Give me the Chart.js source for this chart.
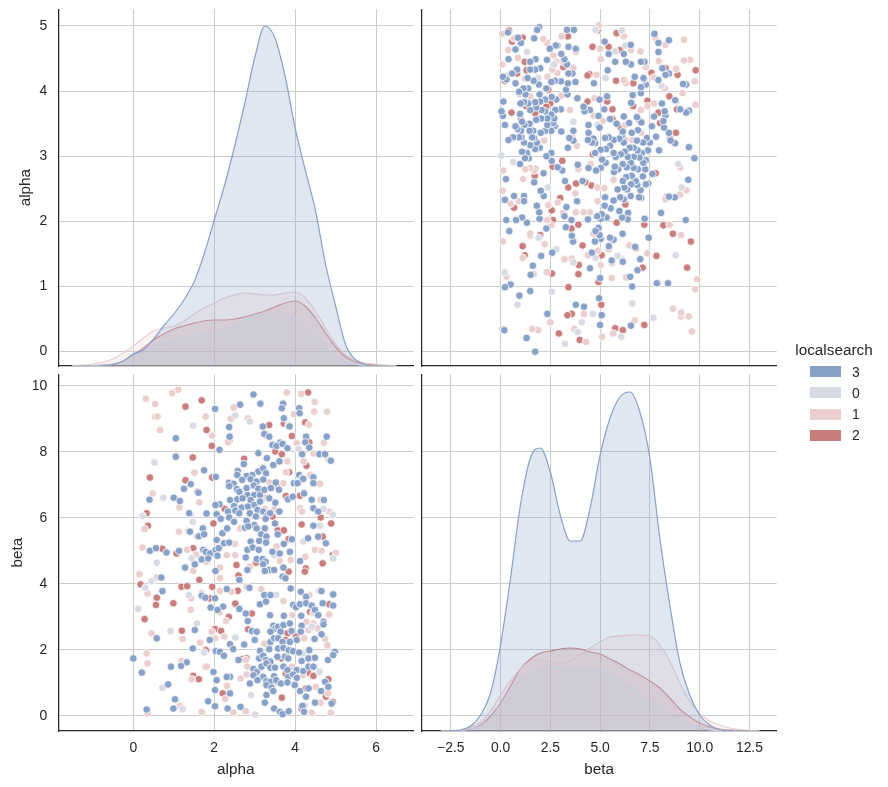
<!DOCTYPE html>
<html>
<head>
<meta charset="utf-8">
<script src="https://cdn.jsdelivr.net/npm/chart.js@4.4.0/dist/chart.umd.min.js"></script>
<style>
  html, body { margin: 0; padding: 0; background: #fff; }
  #wrap { position: relative; width: 888px; height: 787px; font-family: "Liberation Sans", Arial, sans-serif; color: #262626; }
  #wrap canvas { position: absolute; left: 0; top: 0; }
  .leg { position: absolute; white-space: nowrap; }
</style>
</head>
<body>
<div id="wrap">
  <canvas id="aa" width="888" height="787"></canvas>
  <canvas id="ab" width="888" height="787"></canvas>
  <canvas id="ba" width="888" height="787"></canvas>
  <canvas id="bb" width="888" height="787"></canvas>
</div>
<script>
// hue levels in legend order
const hueLevels = ['3', '0', '1', '2'];
const hueColors = ['#88a1c8', '#d8dbe4', '#ebcfcf', '#c97e7d'];

// tick values
const alphaColTicks = [0, 2, 4, 6];
const alphaRowTicks = [0, 1, 2, 3, 4, 5];
const betaColTicks = [-2.5, 0, 2.5, 5, 7.5, 10, 12.5];
const betaRowTicks = [0, 2, 4, 6, 8, 10];

// scatter points, [alpha, beta]
const pts3 = [
  [2.97,9.74],[3.14,9.46],[2.64,9.43],[2.02,9.30],[3.70,9.46],[3.67,9.32],[4.10,9.32],[4.11,9.17],[3.72,9.02],
  [2.37,8.75],[3.20,8.77],[3.86,8.77],[1.05,8.41],[2.38,8.46],[3.24,8.54],[3.36,8.46],[4.27,8.46],[4.78,8.46],[3.63,8.28],[3.44,8.21],[3.54,8.18],[3.69,8.24],[3.81,8.11],[4.25,8.29],[2.13,8.06],[4.35,8.13],
  [1.05,7.85],[3.09,7.96],[3.30,7.81],[4.17,7.93],[4.60,7.93],[4.74,7.93],[4.88,7.73],[2.73,7.63],[3.61,7.71],[3.46,7.60],[1.75,7.44],[2.58,7.42],[3.09,7.40],[3.21,7.50],[3.28,7.35],[2.94,7.30],[2.80,7.27],[2.57,7.30],[4.10,7.30],[4.18,7.20],[4.45,7.23],[2.04,7.24],[2.36,7.06],[2.48,7.03],[2.69,7.15],[2.90,7.17],[3.05,7.10],[3.21,7.16],[3.52,7.07],[3.97,7.05],[4.06,7.05],[4.45,7.05],[4.20,7.18],
  [1.42,7.02],[1.25,6.88],[1.61,6.76],[2.37,6.96],[2.56,6.87],[2.62,6.79],[2.80,6.90],[2.98,6.98],[3.09,6.88],[2.82,6.69],[2.99,6.69],[3.13,6.69],[3.24,6.85],[3.40,6.90],[3.60,6.85],[3.82,6.56],[3.94,6.64],[4.22,6.74],[4.41,6.55],[4.71,6.54],[0.40,6.55],[1.00,6.61],[1.15,6.51],[2.13,6.41],[2.39,6.54],[2.57,6.56],[2.70,6.59],[2.90,6.54],[2.99,6.39],[3.13,6.49],[3.36,6.59],[3.51,6.46],[2.03,6.39],[2.49,6.36],[2.68,6.31],[2.83,6.34],[3.07,6.24],[3.61,6.19],[4.45,6.29],[4.57,6.19],[1.38,6.14],[1.81,6.13],[2.06,6.11],[2.34,6.19],[2.52,6.22],[2.62,6.14],[2.88,6.14],[3.03,6.04],[3.21,6.19],[3.32,6.09],[3.38,6.14],
  [2.16,5.97],[2.37,6.01],[2.49,5.88],[2.80,5.91],[2.99,5.78],[3.27,5.97],[3.50,5.83],[4.45,5.76],[1.40,5.58],[1.72,5.68],[1.62,5.44],[1.75,5.50],[2.20,5.53],[2.32,5.68],[2.76,5.70],[2.84,5.74],[3.05,5.68],[3.25,5.68],[3.16,5.50],[3.29,5.43],[3.57,5.50],[3.92,5.35],[4.32,5.38],[4.57,5.43],[4.76,5.23],[2.06,5.33],[2.24,5.23],[2.37,5.25],[2.90,5.28],[3.11,5.30],[3.28,5.25],[3.72,5.21],[0.41,5.00],[0.56,5.08],[0.82,4.95],[1.13,5.00],[1.73,5.03],[1.79,4.97],[1.90,4.92],[2.04,5.03],[2.11,5.08],[2.82,5.03],[2.95,5.10],[3.10,5.03],[3.44,4.97],[3.62,4.92],[3.87,4.97],
  [1.69,4.74],[1.85,4.77],[2.08,4.85],[2.78,4.80],[3.05,4.75],[3.20,4.75],[3.27,4.67],[4.12,4.69],[1.28,4.49],[1.52,4.59],[3.21,4.59],[3.36,4.42],[3.71,4.49],[2.82,4.42],[0.69,4.19],[2.03,4.39],[2.62,4.12],[3.25,4.39],[3.48,4.42],[3.69,4.22],[3.76,4.17],
  [0.72,3.78],[2.31,3.84],[2.87,3.88],[3.24,3.66],[3.39,3.66],[3.89,3.86],[4.14,3.76],[4.27,3.61],[4.65,3.78],[4.94,3.68],[1.69,3.64],[1.78,3.58],[2.02,3.56],[1.91,3.28],[2.22,3.31],[2.62,3.24],[3.13,3.38],[3.28,3.46],[3.95,3.36],[4.02,3.29],[4.12,3.38],[4.27,3.41],[4.41,3.34],[4.49,3.21],[4.68,3.41],[4.94,3.34],[2.08,3.21],[2.78,3.10],[3.38,3.05],[3.72,3.03],[4.15,3.03],[4.57,3.05],
  [2.83,2.87],[3.46,2.73],[3.51,2.65],[3.58,2.70],[3.71,2.75],[3.87,2.80],[4.16,2.73],[4.70,2.85],[4.70,2.77],[1.52,2.60],[2.93,2.57],[3.05,2.55],[3.39,2.55],[3.64,2.55],[3.91,2.57],[4.14,2.55],[4.65,2.47],[0.58,2.35],[1.89,2.30],[2.39,2.17],[2.74,2.16],[3.00,2.30],[3.39,2.24],[3.48,2.35],[3.58,2.35],[3.69,2.24],[3.87,2.24],[4.04,2.30],[4.48,2.33],[1.47,2.04],[2.04,1.96],[2.14,1.94],[2.47,2.02],[3.13,1.97],[3.36,2.02],[3.58,2.04],[3.71,2.06],[3.84,1.99],[3.95,1.96],[4.10,1.92],[4.35,1.99],[4.98,1.94],
  [0.00,1.74],[1.32,1.62],[2.24,1.82],[2.60,1.69],[3.11,1.74],[3.21,1.82],[3.28,1.69],[3.39,1.64],[3.56,1.79],[3.75,1.79],[3.83,1.74],[4.16,1.66],[4.33,1.74],[4.49,1.76],[4.81,1.69],[4.94,1.84],[0.21,1.31],[0.93,1.49],[1.18,1.51],[2.97,1.42],[3.05,1.33],[3.17,1.49],[3.29,1.59],[3.39,1.46],[3.50,1.46],[3.71,1.49],[3.81,1.39],[4.04,1.39],[4.20,1.36],[4.33,1.49],[4.45,1.49],[2.39,1.18],[1.98,1.33],[2.97,1.23],[3.21,1.18],[3.48,1.20],[3.83,1.18],[3.95,1.25],[4.04,1.15],[2.06,1.08],[2.31,1.18],[3.07,1.08],[3.29,1.05],[3.39,1.03],[3.53,1.08],[3.65,0.98],[3.81,1.01],
  [0.86,0.95],[2.88,0.98],[3.29,0.93],[3.42,0.85],[3.99,0.93],[4.12,0.75],[4.33,0.83],[4.64,0.75],[4.74,1.03],[4.82,0.88],[2.02,0.78],[2.39,0.68],[3.29,0.63],[3.46,0.75],[4.27,0.58],[1.03,0.50],[1.85,0.44],[4.90,0.37],[0.99,0.22],[0.33,0.19],[2.02,0.29],[2.33,0.22],[2.65,0.27],[3.25,0.40],[3.48,0.22],[3.62,0.12],[3.69,0.05],[3.84,0.14],[4.18,0.30],[4.22,0.12],[4.49,0.40]
];
const pts0 = [
  [2.52,9.10],[2.88,8.92],[1.48,8.79],[3.84,8.82],[4.08,8.09],[0.52,7.68],[0.74,6.61],[4.70,6.27],[0.23,6.06],[1.42,6.09],[4.93,6.09],[1.47,5.88],[4.61,5.76],[4.20,5.28],[1.44,4.77],[3.48,4.87],[4.94,4.77],[0.58,4.64],
  [0.45,4.08],[0.30,3.88],[1.37,3.66],[3.53,3.66],[0.12,3.24],[1.57,2.80],[0.92,2.57],[4.41,2.70],[2.52,2.37],[4.20,1.89],[1.75,1.92],[4.60,1.33],[0.72,0.85],[3.95,0.95],[2.91,0.63],[1.22,0.20],[3.01,0.04],[4.24,0.32]
];
const pts1 = [
  [1.11,9.88],[0.96,9.78],[0.31,9.61],[0.54,9.45],[2.48,9.34],[3.79,9.80],[4.15,9.76],[4.48,9.51],[4.47,9.22],[4.79,9.22],[3.97,9.14],[2.41,9.00],[2.83,9.02],[0.54,9.06],[0.60,9.07],[1.79,9.07],
  [0.66,8.66],[4.34,8.82],[1.95,8.49],[2.34,8.29],[4.04,8.26],[4.71,8.28],
  [1.05,7.91],[4.46,7.95],[4.82,7.77],[3.81,7.71],[4.21,7.71],[1.51,7.37],[3.77,7.38],[4.37,7.30],[3.36,7.07],[3.71,7.05],[4.61,7.03],
  [0.48,6.74],[4.63,6.55],[1.63,6.47],[3.25,6.61],[1.14,6.31],[3.25,6.27],[3.48,6.26],[4.12,6.29],[4.17,6.19],[4.84,6.19],
  [0.28,5.66],[1.13,5.58],[1.36,5.60],[1.57,5.43],[2.64,5.68],[2.51,5.21],[3.54,5.13],[0.23,5.10],[1.33,5.03],[4.49,5.03],[4.65,5.00],[5.01,4.94],
  [1.55,4.89],[2.31,4.87],[2.52,4.87],[3.62,4.69],[3.89,4.72],[4.25,4.82],[1.81,4.67],[2.14,4.49],[2.88,4.52],[1.48,4.39],[0.15,4.29],[0.58,4.19],[2.14,4.17],
  [0.35,3.71],[1.69,3.71],[2.14,3.78],[2.43,3.76],[2.80,3.91],[3.16,3.84],[4.35,3.66],[4.60,3.78],[1.43,3.56],[3.29,3.61],[3.71,3.48],[1.42,3.21],[2.13,3.14],[3.93,3.05],[4.45,3.13],[4.84,3.07],
  [2.29,2.87],[4.28,2.85],[4.45,2.80],[1.94,2.55],[4.33,2.60],[4.55,2.65],[0.45,2.50],[1.22,2.33],[2.02,2.35],[2.25,2.40],[3.24,2.19],[4.22,2.35],[4.74,2.33],[4.80,2.14],[1.65,2.22],
  [0.33,1.89],[0.35,1.59],[1.19,1.66],[2.78,1.69],[1.81,1.49],[2.82,1.49],[3.92,1.49],[2.80,1.25],[4.19,1.23],[1.44,1.11],[2.65,1.13],
  [2.31,0.91],[4.51,0.88],[4.81,0.68],[2.27,0.51],[1.15,0.30],[0.35,0.07],[1.69,0.12],[2.47,0.10],[2.78,0.14],[4.41,0.09],[4.63,0.40],[4.88,0.09]
];
const pts2 = [
  [1.69,9.56],[1.29,9.37],[4.32,9.80],
  [1.81,8.66],[3.36,8.81],[3.72,8.86],[4.25,8.89],[3.27,8.51],[3.92,8.48],[2.37,8.33],[4.35,8.29],[1.94,8.18],
  [1.47,7.83],[3.51,8.01],[3.67,7.93],[2.74,7.79],[4.28,7.58],[3.85,7.38],[0.41,7.22],[1.29,7.14],[1.95,7.22],
  [1.59,6.79],[3.57,6.92],[3.77,6.66],[4.12,6.67],[2.26,6.27],[0.33,6.14],[3.44,6.04],[4.63,6.01],
  [0.36,5.76],[1.98,5.83],[4.16,5.80],[4.89,5.83],[3.57,5.62],[3.72,5.62],[3.84,5.36],[4.68,5.43],[0.72,5.06],[1.07,4.92],[1.48,5.08],[4.93,4.87],
  [4.68,4.62],[2.55,4.57],[3.03,4.64],[3.84,4.37],[4.26,4.47],[4.24,4.37],[1.63,4.12],[2.60,4.25],[0.18,3.98],
  [1.19,3.91],[1.33,3.93],[1.95,3.91],[2.58,3.79],[0.58,3.58],[0.56,3.36],[0.99,3.41],[1.89,3.56],[2.52,3.40],[4.84,3.38],[0.28,2.93],[2.36,3.00],[2.93,3.10],[4.37,3.15],
  [1.20,2.58],[2.02,2.63],[2.17,2.57],[2.84,2.62],[3.81,2.50],[4.02,2.40],[3.76,2.30],[1.79,1.99],
  [2.70,1.72],[2.80,1.74],[3.66,1.74],[1.79,1.49],[3.77,1.28],[4.32,1.31],[4.45,1.21],[1.48,1.21],[1.62,1.11],[3.56,1.03],
  [4.27,0.83],[4.82,1.11],[2.21,0.68],[3.67,0.55],[4.76,0.58],[4.93,0.42],[4.16,0.22]
];
const pointsByLevel = { '3': pts3, '0': pts0, '1': pts1, '2': pts2 };

// kde curves (diagonal), evaluated on these grids
const kdeAlphaX = [-1.5,-1.25,-1,-0.75,-0.5,-0.25,0,0.25,0.5,0.75,1,1.25,1.5,1.75,2,2.25,2.5,2.75,3,3.25,3.5,3.75,4,4.25,4.5,4.75,5,5.25,5.5,5.75,6,6.25,6.5];
const kdeAlpha3 = [0,0,0,0.005,0.015,0.05,0.12,0.16,0.27,0.40,0.52,0.66,0.84,1.12,1.46,1.80,2.19,2.62,3.08,3.40,3.28,2.90,2.38,1.96,1.56,1.02,0.60,0.21,0.06,0.01,0,0,0];
const kdeAlpha0 = [0,0,0.003,0.01,0.02,0.05,0.10,0.15,0.20,0.23,0.26,0.28,0.30,0.32,0.34,0.37,0.41,0.46,0.50,0.53,0.53,0.51,0.47,0.39,0.30,0.19,0.10,0.04,0.015,0.005,0,0,0];
const kdeAlpha1 = [0.005,0.01,0.02,0.04,0.07,0.13,0.20,0.28,0.35,0.38,0.40,0.45,0.52,0.58,0.63,0.68,0.71,0.73,0.72,0.71,0.71,0.73,0.74,0.68,0.55,0.38,0.22,0.11,0.06,0.03,0.02,0.01,0.003];
const kdeAlpha2 = [0,0.002,0.005,0.01,0.02,0.05,0.11,0.18,0.26,0.32,0.37,0.40,0.43,0.45,0.46,0.46,0.47,0.49,0.52,0.55,0.59,0.63,0.65,0.60,0.48,0.33,0.19,0.09,0.04,0.02,0.01,0.004,0];

const kdeBetaX = [-3,-2.5,-2,-1.5,-1,-0.5,0,0.5,1,1.5,2,2.5,3,3.5,4,4.5,5,5.5,6,6.5,7,7.5,8,8.5,9,9.5,10,10.5,11,11.5,12,12.5,13];
const kdeBeta3 = [0,0.003,0.01,0.05,0.16,0.38,0.86,1.53,2.26,2.73,2.83,2.59,2.16,1.90,1.90,2.23,2.76,3.13,3.34,3.39,3.19,2.73,1.93,1.26,0.69,0.36,0.16,0.06,0.015,0.003,0,0,0];
const kdeBeta0 = [0,0.002,0.005,0.02,0.05,0.13,0.25,0.38,0.50,0.58,0.63,0.64,0.63,0.62,0.62,0.62,0.61,0.58,0.52,0.44,0.36,0.30,0.24,0.17,0.11,0.06,0.03,0.01,0.003,0,0,0,0];
const kdeBeta1 = [0,0.005,0.015,0.04,0.09,0.20,0.36,0.50,0.62,0.70,0.71,0.69,0.68,0.70,0.76,0.83,0.89,0.94,0.95,0.96,0.96,0.95,0.86,0.70,0.48,0.30,0.18,0.10,0.06,0.03,0.015,0.007,0];
const kdeBeta2 = [0,0.002,0.005,0.02,0.06,0.15,0.28,0.45,0.62,0.72,0.78,0.80,0.82,0.83,0.82,0.79,0.77,0.72,0.67,0.61,0.56,0.50,0.43,0.33,0.22,0.14,0.08,0.04,0.02,0.008,0.002,0,0];

const kdeAlphaByLevel = { '3': kdeAlpha3, '0': kdeAlpha0, '1': kdeAlpha1, '2': kdeAlpha2 };
const kdeBetaByLevel = { '3': kdeBeta3, '0': kdeBeta0, '1': kdeBeta1, '2': kdeBeta2 };

// ---- layout / style ----
const W = 888, H = 787;
const FONT = '"Liberation Sans", Arial, sans-serif';
const INK = '#262626';
const GRID = '#cccccc';
const KDE_TOP = 3.567;

const intFmt = v => String(v);
const decFmt = v => v.toFixed(1).replace('-', '\u2212');

const cols = {
  alpha: { name: 'alpha', lim: [-1.854, 6.92], ticks: alphaColTicks, fmt: intFmt, area: [58.3, 413.3] },
  beta:  { name: 'beta',  lim: [-3.96, 13.87], ticks: betaColTicks, fmt: decFmt, area: [421.7, 776.7] }
};
const rows = {
  alpha: { name: 'alpha', lim: [-0.22, 5.256], ticks: alphaRowTicks, fmt: intFmt, area: [9.3, 366], titleOff: 17 },
  beta:  { name: 'beta',  lim: [-0.46, 10.35], ticks: betaRowTicks, fmt: intFmt, area: [374.3, 731], titleOff: 8.5 }
};

function hexA(hex, a) {
  const n = parseInt(hex.slice(1), 16);
  return `rgba(${n >> 16},${(n >> 8) & 255},${n & 255},${a})`;
}

function linAxis(o) {
  return {
    type: 'linear',
    position: o.position,
    min: o.lim[0],
    max: o.lim[1],
    afterBuildTicks: s => { s.ticks = o.ticks.map(v => ({ value: v })); },
    grid: { color: GRID, lineWidth: 1, drawTicks: false },
    border: { display: true, color: INK, width: 1.25 },
    ticks: {
      display: !!o.fmt, padding: o.pad, color: INK, autoSkip: false, maxRotation: 0,
      font: { family: FONT, size: 13.9 },
      callback: o.fmt || (v => v)
    },
    title: o.title
      ? { display: true, text: o.title, color: INK, font: { family: FONT, size: 15.3 }, padding: o.titlePad }
      : { display: false },
    afterFit: s => {
      if (s.isHorizontal()) s.height = o.size; else s.width = o.size;
      // labels overhang is handled by the fixed panel boxes
      s.paddingTop = s.paddingBottom = s.paddingLeft = s.paddingRight = 0;
    }
  };
}

function makePanel(id, col, row, type, datasets) {
  const [l, r] = col.area;
  const [t, b] = row.area;
  const isBottom = row.name === 'beta';
  const isLeft = col.name === 'alpha';
  const scales = {
    x: linAxis({
      position: 'bottom', lim: col.lim, ticks: col.ticks, fmt: isBottom ? col.fmt : null, pad: 9,
      title: isBottom ? col.name : null, titlePad: { top: 0, bottom: 7.8 }, size: H - b
    }),
    y: linAxis({
      position: 'left', lim: row.lim, ticks: row.ticks, fmt: isLeft ? row.fmt : null, pad: 11,
      title: isLeft ? row.name : null, titlePad: { top: row.titleOff, bottom: 0 }, size: l
    })
  };
  if (type === 'line') scales.kde = { type: 'linear', display: false, min: 0, max: KDE_TOP };

  new Chart(document.getElementById(id), {
    type: type,
    data: { datasets: datasets },
    options: {
      responsive: false,
      animation: false,
      events: [],
      layout: { padding: { left: 0, top: t, right: W - r, bottom: 0 } },
      plugins: { legend: { display: false }, tooltip: { enabled: false } },
      scales: scales
    }
  });
}

function kdeSets(xs, byLevel) {
  return hueLevels.map((lv, i) => ({
    data: xs.map((x, j) => ({ x: x, y: byLevel[lv][j] })),
    yAxisID: 'kde',
    borderColor: hueColors[i],
    backgroundColor: hexA(hueColors[i], 0.25),
    borderWidth: 1.2,
    fill: 'origin',
    pointRadius: 0,
    cubicInterpolationMode: 'monotone'
  }));
}

function scatterSets(swap) {
  return hueLevels.map((lv, i) => ({
    data: pointsByLevel[lv].map(([a, bt]) => swap ? { x: bt, y: a } : { x: a, y: bt }),
    pointBackgroundColor: hueColors[i],
    pointBorderColor: '#ffffff',
    pointBorderWidth: 0.8,
    pointRadius: 3.8
  }));
}

makePanel('aa', cols.alpha, rows.alpha, 'line', kdeSets(kdeAlphaX, kdeAlphaByLevel));
makePanel('ab', cols.beta, rows.alpha, 'scatter', scatterSets(true));
makePanel('ba', cols.alpha, rows.beta, 'scatter', scatterSets(false));
makePanel('bb', cols.beta, rows.beta, 'line', kdeSets(kdeBetaX, kdeBetaByLevel));

// legend
const wrap = document.getElementById('wrap');
const title = document.createElement('div');
title.className = 'leg';
title.textContent = 'localsearch';
Object.assign(title.style, { left: '784px', width: '100px', textAlign: 'center', top: '341px', fontSize: '15.3px', lineHeight: '18px' });
wrap.appendChild(title);
hueLevels.forEach((lv, i) => {
  const cy = 371.5 + i * 21.3;
  const sw = document.createElement('div');
  sw.className = 'leg';
  Object.assign(sw.style, { left: '810px', top: (cy - 5.5) + 'px', width: '31px', height: '11px', background: hueColors[i] });
  wrap.appendChild(sw);
  const tx = document.createElement('div');
  tx.className = 'leg';
  tx.textContent = lv;
  Object.assign(tx.style, { left: '852px', top: (cy - 8) + 'px', fontSize: '13.9px', lineHeight: '16px' });
  wrap.appendChild(tx);
});
</script>
</body>
</html>
